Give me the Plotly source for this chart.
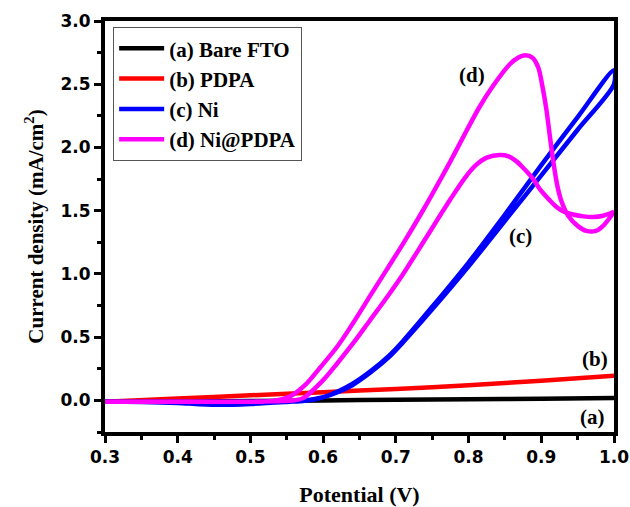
import plotly.graph_objects as go

# ---- data ----
v_a = [0.30, 0.40, 0.50, 0.60, 0.70, 0.80, 0.90, 1.00]
j_a = [-0.01, -0.008, -0.005, 0.0, 0.005, 0.009, 0.013, 0.018]

v_b = [0.30, 0.40, 0.50, 0.60, 0.70, 0.80, 0.90, 1.00]
j_b = [-0.01, 0.015, 0.04, 0.065, 0.09, 0.12, 0.155, 0.195]

v_c_fwd = [0.30, 0.35, 0.40, 0.43, 0.46, 0.50, 0.55, 0.575, 0.60, 0.62, 0.64, 0.665, 0.69, 0.71,
           0.75, 0.80, 0.85, 0.90, 0.95, 1.00]
j_c_fwd = [-0.01, -0.012, -0.02, -0.03, -0.035, -0.028, -0.012, -0.003, 0.025, 0.07, 0.13, 0.23, 0.35, 0.47,
           0.74, 1.09, 1.47, 1.86, 2.24, 2.61]
v_c_rev = [1.00, 0.95, 0.90, 0.85, 0.80, 0.75, 0.71, 0.69, 0.665, 0.64, 0.62, 0.60, 0.575, 0.55,
           0.50, 0.40, 0.30]
j_c_rev = [2.50, 2.14, 1.78, 1.42, 1.06, 0.72, 0.46, 0.34, 0.22, 0.12, 0.065, 0.025, 0.0, -0.008,
           -0.01, -0.01, -0.01]

v_d_fwd = [0.30, 0.45, 0.53, 0.554, 0.575, 0.596, 0.62, 0.641, 0.665, 0.687, 0.71, 0.733, 0.752,
           0.775, 0.797, 0.815, 0.834, 0.857, 0.868, 0.878, 0.888, 0.896, 0.902, 0.907, 0.912,
           0.917, 0.922, 0.928, 0.937, 0.95, 0.962, 0.975, 0.985, 1.00]
j_d_fwd = [-0.01, -0.01, -0.005, 0.03, 0.12, 0.26, 0.43, 0.61, 0.83, 1.03, 1.24, 1.46, 1.65,
           1.89, 2.13, 2.32, 2.49, 2.66, 2.71, 2.73, 2.71, 2.63, 2.47, 2.30, 2.08,
           1.87, 1.70, 1.57, 1.46, 1.38, 1.34, 1.34, 1.38, 1.49]
v_d_rev = [1.00, 0.985, 0.971, 0.958, 0.944, 0.932, 0.921, 0.912, 0.898, 0.889, 0.875, 0.866,
           0.855, 0.843, 0.825, 0.81, 0.795, 0.775, 0.742, 0.71, 0.687, 0.664, 0.641, 0.619,
           0.60, 0.573, 0.56, 0.50, 0.40, 0.30]
j_d_rev = [1.49, 1.46, 1.45, 1.455, 1.47, 1.49, 1.53, 1.58, 1.67, 1.75, 1.84, 1.89,
           1.93, 1.94, 1.92, 1.86, 1.76, 1.59, 1.29, 1.00, 0.81, 0.63, 0.45, 0.29,
           0.16, 0.02, 0.0, -0.01, -0.01, -0.01]

names = ["(a) Bare FTO", "(b) PDPA", "(c) Ni", "(d) Ni@PDPA"]
colors = ["#000000", "#ff0000", "#0000ff", "#ff00ff"]

labels = ["(d)", "(c)", "(b)", "(a)"]
label_v = [0.805, 0.872, 0.974, 0.970]
label_j = [2.57, 1.30, 0.33, -0.13]

x_ticks = [0.3, 0.4, 0.5, 0.6, 0.7, 0.8, 0.9, 1.0]
y_ticks = [0.0, 0.5, 1.0, 1.5, 2.0, 2.5, 3.0]

serif = "Liberation Serif"
sans = "DejaVu Sans"

fig = go.Figure()
series = [
    (v_a, j_a),
    (v_b, j_b),
    (v_c_fwd + v_c_rev, j_c_fwd + j_c_rev),
    (v_d_fwd + v_d_rev, j_d_fwd + j_d_rev),
]
for (vx, jy), nm, col in zip(series, names, colors):
    fig.add_trace(go.Scatter(
        x=vx, y=jy, mode="lines", name=nm,
        line=dict(color=col, width=4.5, shape="spline", smoothing=0.8),
    ))

for t, vx, jy in zip(labels, label_v, label_j):
    fig.add_annotation(x=vx, y=jy, text=t, showarrow=False,
                       font=dict(family=serif, size=21, color="black", weight="bold"))

axis_common = dict(
    showline=True, linecolor="black", linewidth=4, mirror=True,
    ticks="outside", ticklen=7, tickwidth=3, tickcolor="black",
    showgrid=False, zeroline=False, automargin=False,
    tickfont=dict(family=sans, size=17, color="black", weight="bold"),
)

fig.update_xaxes(
    range=[0.3, 1.0], tickvals=x_ticks, ticktext=[f"{v:.1f}" for v in x_ticks],
    minor=dict(tickvals=[0.35, 0.45, 0.55, 0.65, 0.75, 0.85, 0.95], ticks="outside",
               ticklen=4, tickwidth=3, tickcolor="black"),
    title=dict(text="Potential (V)", font=dict(family=serif, size=22, color="black", weight="bold"),
               standoff=24),
    **axis_common,
)
fig.update_yaxes(
    range=[-0.25, 3.0], tickvals=y_ticks, ticktext=[f"{v:.1f}" for v in y_ticks],
    minor=dict(tickvals=[-0.25, 0.25, 0.75, 1.25, 1.75, 2.25, 2.75], ticks="outside",
               ticklen=4, tickwidth=3, tickcolor="black"),
    title=dict(text="Current density (mA/cm<sup>2</sup>)",
               font=dict(family=serif, size=21, color="black", weight="bold"), standoff=12),
    **axis_common,
)

fig.update_layout(
    width=630, height=507,
    margin=dict(l=105, r=16, t=21, b=75),
    paper_bgcolor="white", plot_bgcolor="white",
    showlegend=True,
    legend=dict(
        x=0.016, y=0.985, xanchor="left", yanchor="top",
        bgcolor="white", bordercolor="#555555", borderwidth=1,
        font=dict(family=serif, size=21, color="black", weight="bold"),
        itemwidth=45, tracegroupgap=0,
    ),
)

fig.write_html("out.html")
